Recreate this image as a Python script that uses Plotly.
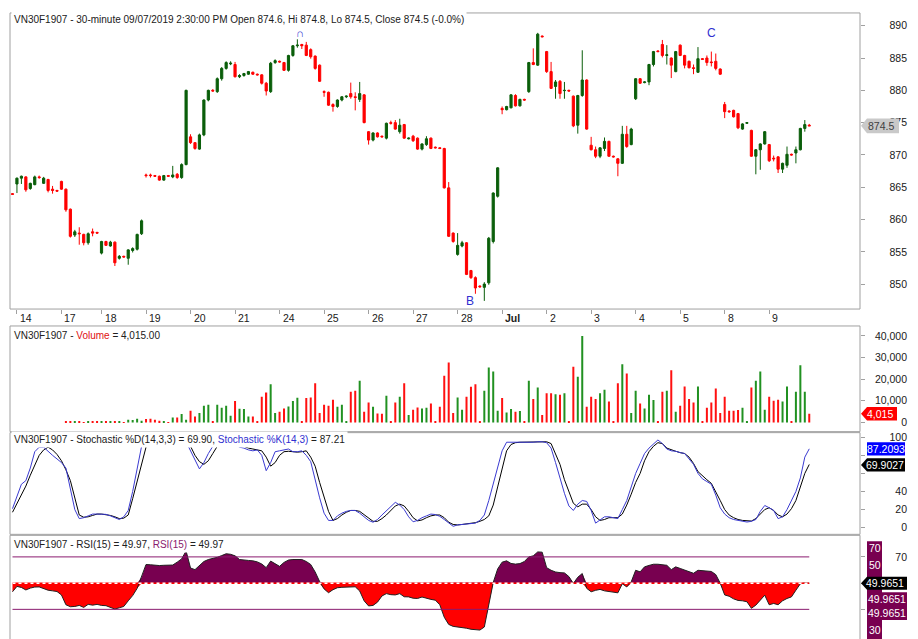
import plotly.graph_objects as go

W, H = 918, 639

# ---------------- data ----------------
day_labels = ["14", "17", "18", "19", "20", "21", "24", "25", "26", "27", "28",
              "Jul", "2", "3", "4", "5", "8", "9"]
day_start = [1, 11, 20, 30, 40, 50, 60, 70, 80, 90, 100, 110, 120, 130, 140, 150, 160, 170]

opens = [
    864.0,
    865.5, 866.4, 866.6, 864.8, 865.4, 866.6, 865.6, 866.2, 864.7, 864.5,
    865.9, 864.7, 861.6, 857.6, 857.9, 857.7, 856.4, 858.1, 858.0,
    854.8, 856.6, 855.9, 856.5, 854.0, 854.3, 854.0, 855.2, 855.4, 857.8,
    866.9, 866.9, 866.8, 866.7, 866.1, 866.8, 866.6, 867.0, 866.5, 868.5,
    872.8, 871.9, 870.9, 873.1, 878.5, 880.0, 879.8, 881.8, 883.4, 884.1,
    884.0, 882.1, 882.3, 882.5, 882.8, 882.5, 882.4, 881.1, 879.8, 884.3,
    884.5, 884.3, 883.1, 885.4, 886.9, 887.1, 887.0, 886.3, 885.3, 883.9,
    879.8, 879.7, 877.8, 877.5, 878.5, 879.0, 879.5, 879.0, 878.6, 879.3,
    873.6, 872.3, 873.4, 872.9, 872.6, 875.0, 875.0, 873.6, 874.7, 872.5,
    872.9, 872.6, 870.9, 871.6, 872.6, 871.2, 871.1, 871.0, 864.9, 857.9,
    854.6, 855.9, 856.4, 852.1, 851.0, 849.7, 849.5, 850.2, 856.6, 863.6,
    877.2, 877.0, 877.3, 879.2, 877.6, 878.6, 879.8, 884.3, 883.9, 888.4,
    886.0, 882.9, 880.6, 881.4, 879.95, 880.0, 879.1, 874.6, 879.2, 881.6,
    871.5, 870.8, 869.8, 871.0, 872.1, 869.8, 869.4, 868.7, 873.2, 871.6,
    878.7, 881.8, 881.2, 881.3, 884.0, 886.1, 887.1, 885.4, 885.0, 882.9,
    887.0, 885.4, 884.5, 883.5, 882.8, 884.9, 885.0, 884.4, 884.5, 883.3,
    877.8, 876.8, 876.9, 876.4, 874.0, 874.9, 873.8, 869.8, 870.8, 871.7,
    871.6, 869.5, 869.7, 867.8, 868.4, 870.1, 870.3, 870.8, 874.1, 874.6,
]
highs = [
    864.1,
    866.5, 866.8, 866.7, 865.7, 866.8, 866.8, 866.6, 866.3, 865.2, 864.6,
    866.0, 864.8, 861.7, 858.4, 858.8, 857.8, 858.0, 858.6, 858.1,
    856.7, 856.7, 856.7, 856.6, 854.5, 854.4, 855.4, 855.7, 857.8, 860.0,
    867.1, 867.1, 866.9, 866.8, 866.9, 866.9, 868.3, 867.2, 868.7, 880.1,
    873.2, 872.0, 873.3, 878.6, 880.1, 880.2, 882.0, 883.6, 884.5, 884.5,
    884.4, 882.5, 882.7, 883.0, 882.9, 882.6, 882.5, 881.3, 884.4, 884.8,
    884.6, 884.4, 885.5, 887.0, 887.9, 887.2, 887.5, 886.5, 885.4, 884.0,
    880.0, 879.8, 878.0, 878.6, 879.1, 879.2, 881.2, 879.7, 881.3, 879.4,
    873.7, 873.5, 873.5, 873.0, 875.0, 875.3, 875.4, 875.6, 874.8, 872.7,
    873.1, 872.7, 871.8, 872.9, 872.7, 871.3, 871.2, 871.1, 865.8, 858.0,
    857.9, 856.7, 856.5, 852.2, 851.2, 849.8, 850.3, 857.3, 864.2, 868.1,
    877.5, 877.6, 879.4, 879.4, 878.7, 878.7, 884.4, 886.5, 888.9, 888.5,
    886.1, 884.4, 881.6, 881.6, 881.3, 880.1, 879.2, 879.3, 886.2, 881.7,
    872.8, 871.3, 871.2, 872.7, 872.2, 869.9, 869.5, 874.5, 874.5, 874.2,
    881.9, 881.9, 881.4, 884.1, 886.1, 886.2, 887.8, 887.0, 885.1, 886.1,
    887.1, 885.5, 884.6, 884.0, 886.7, 885.0, 885.4, 886.0, 885.7, 883.4,
    878.2, 876.9, 877.0, 876.5, 874.9, 875.1, 873.9, 870.9, 871.8, 873.7,
    871.7, 869.9, 869.8, 868.8, 871.3, 870.2, 871.3, 874.2, 875.4, 874.8,
]
lows = [
    863.9,
    864.1, 865.5, 864.3, 864.6, 865.3, 866.3, 865.5, 864.2, 864.0, 864.3,
    864.6, 861.2, 857.2, 857.3, 856.1, 856.0, 856.1, 857.4, 857.8,
    854.6, 855.9, 855.8, 852.8, 853.8, 854.1, 853.0, 854.9, 855.2, 857.6,
    866.5, 866.5, 866.6, 866.0, 866.0, 866.6, 866.4, 866.3, 866.3, 868.4,
    871.7, 870.8, 870.8, 872.9, 878.3, 879.8, 879.6, 881.5, 883.2, 883.9,
    882.0, 881.9, 882.1, 882.4, 882.4, 882.3, 880.9, 879.2, 879.6, 884.1,
    884.3, 883.0, 882.9, 885.2, 886.6, 886.4, 885.3, 884.9, 883.2, 881.3,
    879.0, 877.6, 876.7, 877.3, 878.3, 878.8, 878.7, 876.9, 878.2, 874.9,
    871.6, 872.1, 872.7, 872.7, 872.4, 874.7, 873.9, 873.3, 872.5, 872.4,
    872.0, 870.8, 870.7, 871.4, 870.9, 871.0, 870.9, 864.8, 857.3, 856.4,
    854.4, 855.7, 851.4, 850.8, 848.5, 849.4, 847.4, 849.9, 856.3, 863.4,
    876.3, 876.9, 877.2, 877.5, 877.5, 878.4, 879.6, 883.9, 883.8, 888.2,
    882.7, 880.2, 878.7, 878.7, 878.7, 879.8, 874.3, 873.3, 879.0, 873.9,
    870.7, 869.5, 869.5, 870.6, 869.7, 869.6, 866.7, 868.6, 871.1, 871.5,
    878.5, 881.0, 881.1, 880.8, 883.7, 885.9, 885.1, 884.0, 881.9, 882.8,
    885.3, 883.4, 883.4, 882.5, 882.7, 884.7, 883.8, 883.7, 883.1, 882.4,
    875.7, 876.5, 875.8, 874.0, 873.9, 874.8, 869.7, 867.0, 867.7, 871.6,
    868.9, 869.0, 867.2, 867.2, 868.0, 869.9, 868.7, 870.7, 873.6, 874.5,
]
closes = [
    863.9,
    866.4, 866.7, 864.6, 865.6, 866.6, 866.5, 866.4, 864.5, 864.5, 864.4,
    864.7, 861.5, 857.4, 858.1, 857.8, 856.4, 857.8, 857.9, 857.9,
    856.6, 856.0, 856.5, 853.3, 854.3, 854.2, 855.3, 855.5, 857.7, 859.8,
    866.8, 866.8, 866.7, 866.1, 866.8, 866.7, 866.9, 866.5, 868.5, 880.0,
    871.9, 871.0, 873.1, 878.5, 880.0, 879.9, 881.8, 883.4, 884.3, 884.2,
    882.1, 882.3, 882.6, 882.9, 882.5, 882.4, 881.1, 879.9, 884.2, 884.6,
    884.4, 883.1, 885.4, 886.9, 887.0, 886.9, 885.4, 885.2, 883.4, 881.4,
    879.7, 877.7, 877.5, 878.5, 879.0, 879.1, 879.0, 878.9, 879.5, 875.0,
    872.3, 873.4, 872.8, 872.8, 874.9, 874.9, 874.0, 874.6, 872.6, 872.6,
    872.2, 870.9, 871.7, 872.5, 871.0, 871.1, 871.0, 864.9, 857.4, 856.6,
    856.0, 856.4, 851.5, 851.0, 849.4, 849.6, 850.0, 857.1, 864.1, 868.0,
    877.0, 877.5, 879.3, 877.6, 878.6, 878.5, 884.3, 884.0, 888.7, 888.3,
    882.9, 880.3, 881.3, 879.5, 880.0, 879.9, 874.5, 879.2, 881.6, 874.0,
    870.8, 869.8, 871.1, 872.1, 869.8, 869.7, 868.7, 873.2, 871.3, 874.0,
    881.8, 881.1, 881.3, 884.0, 886.0, 886.0, 885.4, 885.5, 883.9, 886.0,
    885.4, 883.9, 883.5, 883.4, 884.9, 884.8, 884.3, 884.3, 883.4, 882.5,
    876.7, 876.7, 875.9, 874.2, 874.8, 875.0, 869.8, 870.8, 871.7, 873.6,
    869.1, 869.4, 867.8, 868.7, 870.1, 870.0, 870.8, 874.1, 874.7, 874.5,
]
volumes = [
    0,
    0, 0, 0, 0, 0, 0, 0, 0, 0, 0,
    0, 460, 310, 200, 310, 150, 310, 460, 310,
    300, 600, 450, 450, 200, 150, 1230, 1080, 1690, 770,
    1540, 1690, 1230, 770, 300, 100, 2310, 2310, 3850, 1230,
    5380, 2770, 4310, 7690, 8150, 200, 8150, 6770, 7690, 3080,
    9840, 6310, 6150, 2770, 2770, 200, 11840, 13840, 17690, 4310,
    4920, 6460, 7380, 9840, 11380, 300, 11230, 11540, 18150, 4310,
    8150, 7690, 10460, 7230, 8150, 200, 14150, 14610, 19230, 4920,
    9230, 7230, 4150, 4000, 12300, 200, 9230, 11840, 18150, 3380,
    5840, 6920, 6460, 6770, 8770, 200, 7230, 21530, 27690, 4310,
    11540, 5840, 11840, 16460, 17690, 300, 14610, 25380, 23530, 5380,
    11230, 4610, 6150, 4920, 5230, 300, 19230, 10770, 16150, 3380,
    13530, 13530, 13070, 12770, 13530, 300, 25690, 21070, 39990, 7230,
    11840, 10770, 13530, 15070, 9690, 300, 18150, 26920, 22610, 4310,
    14610, 8770, 6460, 12770, 10300, 300, 14150, 14610, 24150, 4920,
    7690, 16610, 10770, 9230, 16610, 300, 6770, 9230, 15690, 4310,
    11840, 5380, 5380, 5690, 6770, 300, 16150, 19230, 23530, 5840,
    11840, 10000, 10460, 9690, 16610, 300, 14150, 26450, 14150, 4015,
]
stoch_k = [
    21,
    35, 48, 52, 66, 84, 89, 89, 84, 80, 76,
    72, 66, 43, 20, 10, 11, 13, 15, 15,
    15, 14.7, 13, 11, 9, 12, 19, 40, 66, 90,
    97, 98, 98, 97, 98, 98, 98, 97, 98, 95,
    85, 74, 65, 72, 82, 90, 94, 97, 98, 97,
    92, 89, 88, 86, 85, 86, 80, 63, 72, 84,
    85, 86, 87, 84, 84, 85, 80, 73, 52, 33,
    16, 8, 8, 13, 16, 18, 19, 19, 16, 12,
    8, 6, 9, 14, 19, 24, 28, 25, 20, 12,
    6.5, 8, 11, 13, 15, 14.5, 12.5, 9, 5, 1.5,
    3, 3.5, 4, 4.5, 5, 8, 14, 30, 48, 68,
    85, 94.5, 94.5, 94, 94.5, 94.5, 94.5, 94.5, 95, 95,
    94, 88, 72, 55, 38, 24, 19, 26, 30, 29,
    19, 5, 9, 12, 12, 11, 10, 20, 30, 45,
    60, 71, 82, 88, 93, 97, 93, 87, 85, 84.5,
    83, 82, 76, 70, 60, 54, 51, 48, 36, 22,
    15, 11, 9, 8, 7, 6.2, 7, 9, 18, 24.5,
    22, 19, 10, 12, 20, 30, 40, 55, 78, 87.2093,
]
stoch_d = [
    17,
    27, 36, 46, 58, 70, 80, 86, 89, 86, 81,
    74, 64, 52, 32, 14, 11.5, 12, 13.5, 15,
    15, 14.5, 13.5, 12, 10, 10.5, 14, 32, 50, 70,
    89, 96, 98, 98, 98, 98, 98, 98, 98, 97,
    90, 80, 73, 70, 74, 82, 90, 95, 97, 97,
    95, 92, 90, 88, 87, 86, 85, 78, 68, 72,
    80, 84, 84.5, 84, 83.5, 84, 85, 78, 68, 50,
    33, 18, 8, 10, 14, 17, 19, 19, 18, 14,
    10, 7, 7, 10, 14, 19, 24, 26, 24, 18,
    11, 7.5, 8.5, 11, 13, 14, 14, 11, 6, 3.5,
    3, 3.5, 4, 4.5, 5.5, 7, 9, 13, 25, 45,
    65, 85, 92, 94, 94.5, 94.5, 94.5, 94.5, 94.5, 95,
    95, 93, 82, 70, 53, 40, 27, 23, 26, 26,
    20, 12, 8, 9, 11, 11, 11, 15, 25, 37,
    50, 60, 74, 84, 90, 94, 93, 88, 86, 84.5,
    83, 82, 78, 71, 62, 57, 53, 49, 40, 30,
    20, 14, 11, 9, 8, 7.5, 7.3, 10, 15, 20,
    22, 19, 14, 12, 15, 21, 30, 45, 60, 69.9027,
]
rsi = [
    43.4,
    47.5, 46.7, 44.8, 46.2, 47.0, 47.1, 46.0, 44.6, 44.1, 43.6,
    41.0, 33.5, 32.0, 32.2, 33.0, 31.5, 33.8, 33.2, 33.8,
    33.0, 32.8, 31.5, 30.2, 31.2, 32.2, 36.5, 40.5, 46.0, 54.5,
    64.2, 64.0, 63.6, 63.4, 63.6, 63.5, 63.8, 66.0, 68.5, 74.5,
    61.5, 60.3, 63.2, 66.5, 68.0, 68.7, 69.7, 71.0, 72.4, 72.0,
    70.8, 68.0, 67.4, 67.3, 67.0, 66.2, 64.6, 61.8, 66.8, 65.0,
    62.8, 65.8, 67.6, 68.0, 68.0, 68.0, 66.5, 64.2, 58.5, 51.2,
    45.6, 42.7, 45.0, 46.5, 46.8, 47.0, 47.2, 47.2, 44.0, 36.5,
    32.6, 33.0, 35.5, 40.2, 42.0, 41.2, 41.0, 42.0, 39.6, 39.5,
    38.5, 38.3, 39.4, 38.2, 37.6, 37.0, 33.5, 24.0, 18.5, 17.0,
    16.6, 16.0, 15.6, 14.8, 14.4, 14.2, 16.5, 33.0, 50.5, 60.8,
    66.0, 67.0, 65.0, 64.5, 64.9, 66.5, 70.0, 70.8, 73.8, 73.6,
    61.8, 59.8, 58.5, 58.0, 57.8, 55.0, 49.7, 54.5, 57.3, 46.0,
    43.4, 44.5, 45.2, 44.1, 43.6, 43.2, 42.6, 49.5, 47.1, 51.0,
    59.8, 58.6, 62.4, 63.5, 64.4, 64.4, 64.2, 63.6, 60.3, 62.4,
    61.2, 60.0, 58.6, 57.5, 59.8, 59.6, 59.3, 58.9, 56.5, 50.0,
    41.0, 40.0, 38.0, 36.8, 36.5, 35.8, 30.8, 33.2, 37.0, 40.8,
    33.5, 34.5, 33.5, 36.5, 38.3, 39.5, 44.6, 49.5, 50.2, 49.9651,
]
price_ticks = [850, 855, 860, 865, 870, 875, 880, 885, 890]
vol_ticks = [0, 10000, 20000, 30000, 40000]
stoch_ticks = [0, 20, 40, 60, 80, 100]
stoch_label_ticks = [0, 20, 40, 100]
rsi_levels = [70, 50, 30]

symbol = "VN30F1907"
bar_time = "09/07/2019 2:30:00 PM"

# ---------------- styling / geometry ----------------
FONT = "Liberation Sans Narrow, Arial Narrow, Liberation Sans, Arial, sans-serif"
FS = 10
UP, DN = "#0a5e0a", "#ff0000"
VUP, VDN = "#219121", "#ff1010"
PURPLE = "#780050"
LINEP = "#8a1a6e"
BORDER = "#a0a0a0"
BLUE = "#3a3ad0"

def fx(p):
    return p / W

def fy(p):
    return 1 - p / H

XL, XR = 10, 860
PRICE_PX = (11, 308)
VOL_PX = (326, 431)
STO_PX = (432, 534)
RSI_PX = (535, 639)

price_range = [846.14, 891.98]
vol_range = [-4290, 44150]
sto_range = [-7.4, 105.1]
rsi_range = [7.38, 86.46]
x_range = [-0.56, 190.4]

def dom(p):
    return [fy(p[1]), fy(p[0])]

def upp(rng, p):
    return (rng[1] - rng[0]) / (p[1] - p[0])

n = len(closes)
idx = list(range(n))

fig = go.Figure()

fig.add_trace(go.Candlestick(
    x=idx, open=opens, high=highs, low=lows, close=closes,
    increasing=dict(line=dict(color=UP, width=1), fillcolor=UP),
    decreasing=dict(line=dict(color=DN, width=1), fillcolor=DN),
    whiskerwidth=0, xaxis="x", yaxis="y", showlegend=False, hoverinfo="skip"))

vol_colors = [VUP if c > o else VDN for o, c in zip(opens, closes)]
fig.add_trace(go.Bar(x=idx, y=volumes, width=0.45,
                     marker=dict(color=vol_colors, line=dict(width=0)),
                     xaxis="x", yaxis="y2", showlegend=False, hoverinfo="skip"))

fig.add_trace(go.Scatter(x=idx, y=stoch_d, mode="lines", line=dict(color="#000000", width=1),
                         xaxis="x", yaxis="y3", showlegend=False, hoverinfo="skip"))
fig.add_trace(go.Scatter(x=idx, y=stoch_k, mode="lines", line=dict(color=BLUE, width=1),
                         xaxis="x", yaxis="y3", showlegend=False, hoverinfo="skip"))

base = [50] * n
upper = [max(v, 50) for v in rsi]
lower = [min(v, 50) for v in rsi]
for fillv, col in ((upper, PURPLE), (lower, "#ff0000")):
    fig.add_trace(go.Scatter(x=idx, y=base, mode="lines", line=dict(width=0),
                             xaxis="x", yaxis="y4", showlegend=False, hoverinfo="skip"))
    fig.add_trace(go.Scatter(x=idx, y=fillv, mode="lines", line=dict(width=0),
                             fill="tonexty", fillcolor=col,
                             xaxis="x", yaxis="y4", showlegend=False, hoverinfo="skip"))
fig.add_trace(go.Scatter(x=idx, y=rsi, mode="lines", line=dict(color="#202020", width=1),
                         xaxis="x", yaxis="y4", showlegend=False, hoverinfo="skip"))

# invisible traces for label axes
for ax, yv in (("y5", closes[-1]), ("y6", volumes[-1]), ("y7", stoch_k[-1]), ("y8", rsi[-1])):
    fig.add_trace(go.Scatter(x=[idx[-1]], y=[yv], mode="markers", marker=dict(opacity=0),
                             xaxis="x", yaxis=ax, showlegend=False, hoverinfo="skip"))

tickfont = dict(family=FONT, size=FS + 0.5, color="#202020")

def mark_axis(d, rng, tv):
    return dict(domain=d, range=rng, side="right", anchor="x", ticks="outside", ticklen=4,
                tickcolor=BORDER, tickvals=tv, showticklabels=False, showgrid=False,
                zeroline=False, showline=False, fixedrange=True)

def label_axis(ov, rng, tv, fmt=None):
    a = dict(overlaying=ov, side="left", anchor="free", position=fx(907), range=rng,
             tickvals=tv, ticks="", showgrid=False, zeroline=False, showline=False,
             tickfont=tickfont, fixedrange=True)
    if fmt:
        a["tickformat"] = fmt
    return a

layout = dict(
    width=W, height=H, autosize=False,
    margin=dict(l=0, r=0, t=0, b=0),
    paper_bgcolor="white", plot_bgcolor="white",
    font=dict(family=FONT, size=FS, color="#202020"),
    showlegend=False,
    xaxis=dict(domain=[fx(XL), fx(XR)], range=x_range, anchor="y", showgrid=False,
               zeroline=False, showline=False, ticks="outside", ticklen=4, tickcolor=BORDER,
               tickvals=day_start, showticklabels=False, rangeslider=dict(visible=False),
               fixedrange=True),
    yaxis=mark_axis(dom(PRICE_PX), price_range, price_ticks),
    yaxis2=mark_axis(dom(VOL_PX), vol_range, vol_ticks),
    yaxis3=mark_axis(dom(STO_PX), sto_range, stoch_ticks),
    yaxis4=mark_axis([0, fy(RSI_PX[0])], rsi_range, rsi_levels),
    yaxis5=label_axis("y", price_range, price_ticks),
    yaxis6=label_axis("y2", vol_range, vol_ticks, ",d"),
    yaxis7=label_axis("y3", sto_range, stoch_label_ticks),
    yaxis8=label_axis("y4", rsi_range, [70]),
)
fig.update_layout(**layout)

shapes = []
# panel borders
for (t, b) in (PRICE_PX, (VOL_PX[0] - 1, VOL_PX[1]), STO_PX, (RSI_PX[0], 660)):
    shapes.append(dict(type="rect", xref="paper", yref="paper", x0=fx(XL), x1=fx(XR),
                       y0=fy(b), y1=fy(t), line=dict(color=BORDER, width=1), layer="above"))
# RSI level lines
for lv in (rsi_levels[0], rsi_levels[2]):
    shapes.append(dict(type="line", xref="x", yref="y4", x0=idx[0], x1=idx[-1], y0=lv, y1=lv,
                       line=dict(color=LINEP, width=1), layer="above"))
shapes.append(dict(type="line", xref="x", yref="y4", x0=idx[0], x1=idx[-1], y0=50, y1=50,
                   line=dict(color="#ff0000", width=1.5), layer="above"))
shapes.append(dict(type="line", xref="x", yref="y4", x0=idx[0], x1=idx[-1], y0=50, y1=50,
                   line=dict(color="white", width=1.5, dash="dot"), layer="above"))

def pointer(xtip, xright, yc, hh, yref, color, arrow=True):
    x0, xa, x1 = fx(xtip), fx(xtip + 6), fx(xright)
    if arrow:
        path = (f"M {x0},{yc} L {xa},{yc + hh} L {x1},{yc + hh} "
                f"L {x1},{yc - hh} L {xa},{yc - hh} Z")
    else:
        path = (f"M {x0},{yc + hh} L {x1},{yc + hh} L {x1},{yc - hh} L {x0},{yc - hh} Z")
    return dict(type="path", xref="paper", yref=yref, path=path, fillcolor=color,
                line=dict(width=0), layer="above")

annotations = []

def label(x_px, y, yref, text, color="white", size=FS + 0.5):
    annotations.append(dict(x=fx(x_px), y=y, xref="paper", yref=yref, text=text,
                            showarrow=False, xanchor="center", yanchor="middle",
                            font=dict(family=FONT, size=size, color=color)))

# price label
hp = 7.5 * upp(price_range, PRICE_PX)
shapes.append(pointer(861, 899, closes[-1], hp, "y", "#c9c9c9"))
label(881, closes[-1], "y", f"{closes[-1]:.1f}", color="#404040")
# volume label
hv = 6.7 * upp(vol_range, VOL_PX)
shapes.append(pointer(861, 897, volumes[-1], hv, "y2", "#ff0000"))
label(880, volumes[-1], "y2", f"{volumes[-1]:,}")
# stochastic labels
hs = 6.7 * upp(sto_range, STO_PX)
shapes.append(pointer(867, 905, stoch_k[-1], hs, "y3", "#0000ff", arrow=False))
label(886, stoch_k[-1], "y3", f"{stoch_k[-1]:.4f}")
shapes.append(pointer(861, 905, stoch_d[-1] - 0.5, hs, "y3", "#000000"))
label(885, stoch_d[-1] - 0.5, "y3", f"{stoch_d[-1]:.4f}")
# RSI label stack
shapes.append(dict(type="rect", xref="paper", yref="paper", x0=fx(867), x1=fx(882),
                   y0=fy(639), y1=fy(541), fillcolor=PURPLE, line=dict(width=0), layer="above"))
shapes.append(dict(type="rect", xref="paper", yref="paper", x0=fx(867), x1=fx(907),
                   y0=fy(620), y1=fy(592), fillcolor=PURPLE, line=dict(width=0), layer="above"))
hr = 6.5 * upp(rsi_range, RSI_PX)
shapes.append(pointer(861, 907, rsi[-1], hr, "y4", "#000000"))
label(885, rsi[-1], "y4", f"{rsi[-1]:.4f}")
stack = [(548, str(rsi_levels[0])), (565, str(rsi_levels[1])),
         (599, f"{rsi[-1]:.4f}"), (613, f"{rsi[-1]:.4f}"), (630, str(rsi_levels[2]))]
for ypx, txt in stack:
    xc = 874.5 if len(txt) <= 2 else 887
    label(xc, fy(ypx), "paper", txt)

# date labels
for d, t in zip(day_start, day_labels):
    txt = f"<b>{t}</b>" if t == "Jul" else t
    annotations.append(dict(x=d, y=fy(316.5), xref="x", yref="paper", text=txt,
                            showarrow=False, xanchor="left", yanchor="middle", xshift=1,
                            font=dict(family=FONT, size=FS + 0.5, color="#202020")))

# panel titles
chg = (closes[-1] - closes[-2]) / closes[-2] * 100
titles = [
    (18, f"{symbol} - 30-minute {bar_time} Open {opens[-1]:.1f}, Hi {highs[-1]:.1f}, "
         f"Lo {lows[-1]:.1f}, Close {closes[-1]:.1f} ({chg:.1f}%)"),
    (335, f"{symbol} - <span style='color:#e01010'>Volume</span> = {volumes[-1]:,.2f}"),
    (439, f"{symbol} - Stochastic %D(14,3,3) = {stoch_d[-1]:.2f}, "
          f"<span style='color:#3030d0'>Stochastic %K(14,3)</span> = {stoch_k[-1]:.2f}"),
    (544, f"{symbol} - RSI(15) = {rsi[-1]:.2f}, "
          f"<span style='color:#8a1a6e'>RSI(15)</span> = {rsi[-1]:.2f}"),
]
for ypx, txt in titles:
    annotations.append(dict(x=fx(11), y=fy(ypx), xref="paper", yref="paper", text=txt,
                            showarrow=False, xanchor="left", yanchor="middle",
                            bgcolor="white", borderpad=2,
                            font=dict(family=FONT, size=FS, color="#202020")))

# wave labels
low_i = min(idx, key=lambda i: lows[i])
annotations.append(dict(x=low_i, y=lows[low_i], xref="x", yref="y", text="B", showarrow=False,
                        xshift=-14, yanchor="middle",
                        font=dict(family=FONT, size=12, color="#3030d0")))
annotations.append(dict(x=157, y=888.9, xref="x", yref="y", text="C", showarrow=False,
                        yanchor="middle", font=dict(family=FONT, size=12, color="#3030d0")))
annotations.append(dict(x=64.6, y=888.9, xref="x", yref="y", text="∩", showarrow=False,
                        yanchor="middle", font=dict(family=FONT, size=11, color="#3030d0")))

fig.update_layout(shapes=shapes, annotations=annotations)
fig.write_html("out.html", config={"displayModeBar": False},
               post_script="document.body.style.margin='0px';")
